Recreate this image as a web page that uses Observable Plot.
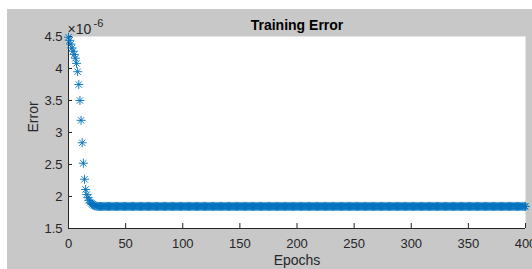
<!DOCTYPE html>
<html>
<head>
<meta charset="utf-8">
<script src="https://cdn.jsdelivr.net/npm/d3@7"></script>
<script src="https://cdn.jsdelivr.net/npm/@observablehq/plot@0.6"></script>
<style>
  html, body { margin: 0; padding: 0; background: #ffffff; }
  #chart { position: absolute; left: 7px; top: 9px; }
</style>
</head>
<body>
<div id="chart"></div>
<script>
// Error values in units of 1e-6 (axis multiplier "×10^-6")
// epochs 0..24
const errorHead = [4.49,4.44,4.38,4.32,4.27,4.22,4.16,4.08,3.95,3.75,3.50,3.19,2.84,2.52,2.27,2.11,2.03,1.98,1.94,1.91,1.89,1.875,1.865,1.855,1.85];
// epochs 25..400 (flat plateau)
const errorPlateau = [
1.845,1.845,1.845,1.845,1.845,  1.845,1.845,1.845,1.845,1.845,  1.845,1.845,1.845,1.845,1.845,  1.845,1.845,1.845,1.845,1.845,
1.845,1.845,1.845,1.845,1.845,  1.845,1.845,1.845,1.845,1.845,  1.845,1.845,1.845,1.845,1.845,  1.845,1.845,1.845,1.845,1.845,
1.845,1.845,1.845,1.845,1.845,  1.845,1.845,1.845,1.845,1.845,  1.845,1.845,1.845,1.845,1.845,  1.845,1.845,1.845,1.845,1.845,
1.845,1.845,1.845,1.845,1.845,  1.845,1.845,1.845,1.845,1.845,  1.845,1.845,1.845,1.845,1.845,  1.845,1.845,1.845,1.845,1.845,
1.845,1.845,1.845,1.845,1.845,  1.845,1.845,1.845,1.845,1.845,  1.845,1.845,1.845,1.845,1.845,  1.845,1.845,1.845,1.845,1.845,
1.845,1.845,1.845,1.845,1.845,  1.845,1.845,1.845,1.845,1.845,  1.845,1.845,1.845,1.845,1.845,  1.845,1.845,1.845,1.845,1.845,
1.845,1.845,1.845,1.845,1.845,  1.845,1.845,1.845,1.845,1.845,  1.845,1.845,1.845,1.845,1.845,  1.845,1.845,1.845,1.845,1.845,
1.845,1.845,1.845,1.845,1.845,  1.845,1.845,1.845,1.845,1.845,  1.845,1.845,1.845,1.845,1.845,  1.845,1.845,1.845,1.845,1.845,
1.845,1.845,1.845,1.845,1.845,  1.845,1.845,1.845,1.845,1.845,  1.845,1.845,1.845,1.845,1.845,  1.845,1.845,1.845,1.845,1.845,
1.845,1.845,1.845,1.845,1.845,  1.845,1.845,1.845,1.845,1.845,  1.845,1.845,1.845,1.845,1.845,  1.845,1.845,1.845,1.845,1.845,
1.845,1.845,1.845,1.845,1.845,  1.845,1.845,1.845,1.845,1.845,  1.845,1.845,1.845,1.845,1.845,  1.845,1.845,1.845,1.845,1.845,
1.845,1.845,1.845,1.845,1.845,  1.845,1.845,1.845,1.845,1.845,  1.845,1.845,1.845,1.845,1.845,  1.845,1.845,1.845,1.845,1.845,
1.845,1.845,1.845,1.845,1.845,  1.845,1.845,1.845,1.845,1.845,  1.845,1.845,1.845,1.845,1.845,  1.845,1.845,1.845,1.845,1.845,
1.845,1.845,1.845,1.845,1.845,  1.845,1.845,1.845,1.845,1.845,  1.845,1.845,1.845,1.845,1.845,  1.845,1.845,1.845,1.845,1.845,
1.845,1.845,1.845,1.845,1.845,  1.845,1.845,1.845,1.845,1.845,  1.845,1.845,1.845,1.845,1.845,  1.845,1.845,1.845,1.845,1.845,
1.845,1.845,1.845,1.845,1.845,  1.845,1.845,1.845,1.845,1.845,  1.845,1.845,1.845,1.845,1.845,  1.845,1.845,1.845,1.845,1.845,
1.845,1.845,1.845,1.845,1.845,  1.845,1.845,1.845,1.845,1.845,  1.845,1.845,1.845,1.845,1.845,  1.845,1.845,1.845,1.845,1.845,
1.845,1.845,1.845,1.845,1.845,  1.845,1.845,1.845,1.845,1.845,  1.845,1.845,1.845,1.845,1.845,  1.845,1.845,1.845,1.845,1.845,
1.845,1.845,1.845,1.845,1.845,  1.845,1.845,1.845,1.845,1.845,  1.845,1.845,1.845,1.845,1.845,  1.845
];
const xTicks = [0, 50, 100, 150, 200, 250, 300, 350, 400];
const yTicks = [1.5, 2, 2.5, 3, 3.5, 4, 4.5];
const xDomain = [0, 400];
const yDomain = [1.5, 4.5];
const titleText = "Training Error";
const xLabel = "Epochs";
const yLabel = "Error";
const expBase = "×10";
const expPower = "-6";

const errors = errorHead.concat(errorPlateau);
const data = errors.map((e, i) => ({epoch: i, error: e}));

// MATLAB-style 8-armed asterisk marker
const asterisk8 = {
  draw(ctx, size) {
    const r = Math.sqrt(size / Math.PI);
    const d = r * Math.SQRT1_2;
    ctx.moveTo(-r, 0); ctx.lineTo(r, 0);
    ctx.moveTo(0, -r); ctx.lineTo(0, r);
    ctx.moveTo(-d, -d); ctx.lineTo(d, d);
    ctx.moveTo(-d, d); ctx.lineTo(d, -d);
  }
};

const axisColor = "#262626";
const font = "'Liberation Sans', Arial, Helvetica, sans-serif";

const chart = Plot.plot({
  width: 525,
  height: 260,
  marginLeft: 61,
  marginRight: 7,
  marginTop: 27,
  marginBottom: 41,
  style: {background: "#c8c8c8", fontFamily: font, fontSize: "13px", color: axisColor, overflow: "visible"},
  x: {domain: xDomain},
  y: {domain: yDomain},
  marks: [
    Plot.frame({fill: "white", stroke: null}),
    Plot.ruleX([xDomain[0]], {stroke: axisColor, strokeWidth: 1}),
    Plot.ruleY([yDomain[0]], {stroke: axisColor, strokeWidth: 1}),
    Plot.axisX({ticks: xTicks, tickSize: 5, dy: -5, text: null, label: null, stroke: axisColor}),
    Plot.axisX({ticks: xTicks, tickSize: 0, tickPadding: 10, label: null, fill: axisColor, fontSize: 13, tickFormat: d => String(d)}),
    Plot.axisY({ticks: yTicks, tickSize: 4, dx: 4, text: null, label: null, stroke: axisColor}),
    Plot.axisY({ticks: yTicks, tickSize: 0, tickPadding: 6, label: null, fill: axisColor, fontSize: 13, tickFormat: d => String(d)}),
    Plot.dot(data, {x: "epoch", y: "error", symbol: asterisk8, r: 4.5, stroke: "#0072BD", strokeWidth: 0.9, fill: "none"}),
    Plot.text([titleText], {frameAnchor: "top", lineAnchor: "middle", dy: -11, fontWeight: "bold", fontSize: 14, fill: "#000000"}),
    Plot.text([xLabel], {frameAnchor: "bottom", lineAnchor: "middle", dy: 32, fontSize: 14, fill: axisColor}),
    Plot.text([yLabel], {frameAnchor: "left", lineAnchor: "middle", dx: -35, rotate: -90, fontSize: 14, fill: axisColor}),
    Plot.text([expBase], {frameAnchor: "top-left", lineAnchor: "middle", textAnchor: "start", dx: -1, dy: -7, fontSize: 14, fill: axisColor}),
    Plot.text([expPower], {frameAnchor: "top-left", lineAnchor: "middle", textAnchor: "start", dx: 25, dy: -13, fontSize: 11, fill: axisColor})
  ]
});
document.getElementById("chart").appendChild(chart);
</script>
</body>
</html>
